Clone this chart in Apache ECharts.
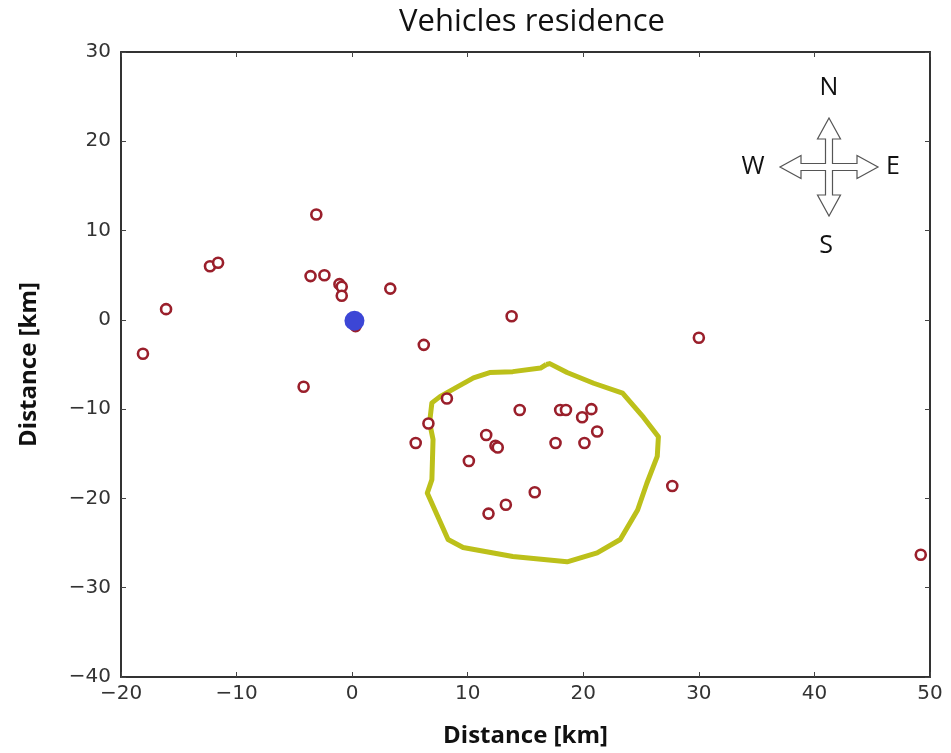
<!DOCTYPE html>
<html>
<head>
<meta charset="utf-8">
<script src="https://cdn.jsdelivr.net/npm/echarts@6/dist/echarts.min.js"></script>
<style>
  html, body { margin: 0; padding: 0; background: #fff; }
  #chart { width: 951px; height: 753px; }
</style>
</head>
<body>
<div id="chart"></div>
<script>
// vehicle residences (km)
var vehX = [-18.1, -16.1, -12.3, -11.6, -3.1, -3.6, -2.4, -1.1, -0.9, -0.9, 3.3, 0.3, 6.2, 13.8, 30.0, -4.2,
	8.2, 6.6, 5.5, 11.6, 12.4, 12.6, 10.1, 14.5, 18.0, 18.5, 19.9, 20.7, 21.2, 17.6, 20.1, 15.8, 13.3, 11.8, 27.7, 49.2];
var vehY = [-3.8, 1.2, 6.0, 6.4, 11.8, 4.9, 5.0, 4.0, 3.7, 2.7, 3.5, -0.7, -2.8, 0.4, -2.0, -7.5,
	-8.8, -11.6, -13.8, -12.9, -14.1, -14.3, -15.8, -10.1, -10.1, -10.1, -10.9, -10.0, -12.5, -13.8, -13.8, -19.3, -20.7, -21.7, -18.6, -26.3];
// reference point
var homeX = [0.2];
var homeY = [-0.1];
// outlined zone
var zoneX = [16.8, 16.3, 13.9, 11.9, 10.5, 9.1, 7.6, 6.9, 6.7, 7.0, 6.9, 6.5, 7.4, 8.3, 9.6, 13.9, 18.6, 21.2, 23.2, 24.7, 25.5, 26.4, 26.5, 25.2, 23.4, 20.9, 18.6, 17.1];
var zoneY = [-5.0, -5.4, -5.8, -5.9, -6.5, -7.5, -8.6, -9.3, -11.5, -13.4, -17.9, -19.4, -22.0, -24.6, -25.5, -26.5, -27.1, -26.1, -24.6, -21.3, -18.3, -15.3, -13.1, -10.9, -8.2, -7.1, -5.9, -4.9];
var xTicks = [-20, -10, 0, 10, 20, 30, 40, 50];
var yTicks = [-40, -30, -20, -10, 0, 10, 20, 30];

function pairs(xs, ys) {
	var out = [];
	for (var i = 0; i < xs.length; i++) out.push([xs[i], ys[i]]);
	return out;
}
var zone = pairs(zoneX, zoneY);
zone.push(zone[0]);

function minus(v) { return String(v).replace('-', '\u2212'); }

var axisCommon = {
	type: 'value',
	axisLine: { show: true, onZero: false, lineStyle: { color: '#333', width: 2 } },
	axisTick: { show: true, inside: true, length: 5, lineStyle: { color: '#444', width: 1 } },
	splitLine: { show: false }
};
var tickFont = { color: '#333', fontSize: 20, fontFamily: 'DejaVu Sans' };
var nameFont = { fontSize: 24, fontWeight: 'bold', color: '#111', fontFamily: 'Open Sans' };

// compass cross outline
var a = 3.5, h = 11.5, B = 28, L = 49;
var cross = [[0,-L],[h,-B],[a,-B],[a,-a],[B,-a],[B,-h],[L,0],[B,h],[B,a],[a,a],[a,B],[h,B],[0,L],[-h,B],[-a,B],[-a,a],[-B,a],[-B,h],[-L,0],[-B,-h],[-B,-a],[-a,-a],[-a,-B],[-h,-B]];
var cx = 829, cy = 167;
var letterFont = { fontSize: 25, fontFamily: 'Open Sans', fill: '#111', align: 'center', verticalAlign: 'middle' };

var chart = echarts.init(document.getElementById('chart'));
chart.setOption({
	backgroundColor: '#fff',
	animation: false,
	title: {
		text: 'Vehicles residence',
		left: 527, top: 2, textAlign: 'center',
		textStyle: { fontSize: 31, fontWeight: 'normal', color: '#111', fontFamily: 'Open Sans' }
	},
	grid: { left: 121, right: 21, top: 52, bottom: 76, outerBoundsMode: 'none', containLabel: false },
	xAxis: [
		Object.assign({}, axisCommon, {
			position: 'bottom', min: -20, max: 50, interval: 10,
			name: 'Distance [km]', nameLocation: 'middle', nameGap: 47,
			nameTextStyle: nameFont,
			axisLabel: Object.assign({ margin: 7, formatter: minus }, tickFont)
		}),
		Object.assign({}, axisCommon, {
			position: 'top', min: -20, max: 50, interval: 10, axisLabel: { show: false }
		})
	],
	yAxis: [
		Object.assign({}, axisCommon, {
			position: 'left', min: -40, max: 30, interval: 10,
			name: 'Distance [km]', nameLocation: 'middle', nameGap: 80,
			nameTextStyle: nameFont,
			axisLabel: Object.assign({ margin: 10, formatter: minus }, tickFont)
		}),
		Object.assign({}, axisCommon, {
			position: 'right', min: -40, max: 30, interval: 10, axisLabel: { show: false }
		})
	],
	series: [
		{
			type: 'line', data: zone, symbol: 'none', smooth: false, z: 2,
			lineStyle: { color: '#bcc01a', width: 5, join: 'round' }
		},
		{
			type: 'scatter', data: pairs(vehX, vehY), symbol: 'circle', symbolSize: 10, z: 3,
			itemStyle: { color: '#fff', borderColor: '#9a1f2b', borderWidth: 2.6, opacity: 1 }
		},
		{
			type: 'scatter', data: pairs(homeX, homeY), symbol: 'circle', symbolSize: 20, z: 4,
			itemStyle: { color: '#3c46d6', opacity: 1 }
		}
	],
	graphic: [
		{
			type: 'polygon', x: cx, y: cy,
			shape: { points: cross },
			style: { fill: '#fff', stroke: '#555', lineWidth: 1.2 }
		},
		{ type: 'text', x: cx, y: 88, style: Object.assign({ text: 'N' }, letterFont) },
		{ type: 'text', x: 826, y: 246, style: Object.assign({ text: 'S' }, letterFont) },
		{ type: 'text', x: 753, y: 167, style: Object.assign({ text: 'W' }, letterFont) },
		{ type: 'text', x: 893, y: 167, style: Object.assign({ text: 'E' }, letterFont) }
	]
});
</script>
</body>
</html>
